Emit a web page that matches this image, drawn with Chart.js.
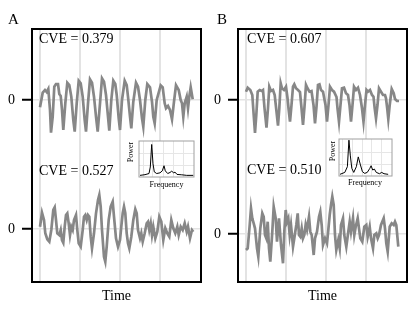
<!DOCTYPE html>
<html lang="en">
<head>
<meta charset="UTF-8">
<title>CVE panels</title>
<script src="https://cdn.jsdelivr.net/npm/chart.js"></script>
<style>
  body { margin: 0; background: #fff; }
  #wrap { position: relative; width: 415px; height: 311px; overflow: hidden; font-family: 'Liberation Serif', 'DejaVu Serif', serif; color: #000; }
  canvas { position: absolute; }
  .lbl { position: absolute; white-space: nowrap; line-height: 1; }
  .big { font-size: 15px; }
  .mid { font-size: 14px; }
  .small { font-size: 8px; transform: translate(-50%, -50%); }
  .rot { transform: translate(-50%, -50%) rotate(-90deg); }
</style>
</head>
<body>
<div id="wrap">
  <canvas id="panelA" width="206" height="311" style="left:0;top:0"></canvas>
  <canvas id="panelB" width="209" height="311" style="left:206px;top:0"></canvas>
  <canvas id="insetA" width="59" height="40" style="left:137px;top:139px"></canvas>
  <canvas id="insetB" width="57" height="41" style="left:337px;top:137px"></canvas>

  <div class="lbl big" style="left:8px;top:12px">A</div>
  <div class="lbl big" style="left:217px;top:12px">B</div>
  <div class="lbl mid" style="left:39px;top:32px">CVE = 0.379</div>
  <div class="lbl mid" style="left:39px;top:164px">CVE = 0.527</div>
  <div class="lbl mid" style="left:247px;top:32px">CVE = 0.607</div>
  <div class="lbl mid" style="left:247px;top:163px">CVE = 0.510</div>
  <div class="lbl mid" style="left:116.5px;top:289px;transform:translateX(-50%)">Time</div>
  <div class="lbl mid" style="left:322.5px;top:289px;transform:translateX(-50%)">Time</div>
  <div class="lbl small" style="left:166.5px;top:184.5px">Frequency</div>
  <div class="lbl small" style="left:365px;top:182.5px">Frequency</div>
  <div class="lbl small rot" style="left:130.5px;top:152px">Power</div>
  <div class="lbl small rot" style="left:333px;top:151px">Power</div>
</div>

<script>
// time series: [time, value]
const aTop = [[0,-7.3],[2.7,7.3],[5,10],[6.7,8],[8.3,11],[10,-10],[11,-32.7],[12.7,-16.7],[14.3,13.3],[16,16],
  [18,16],[19.3,6],[20.7,4],[22,-10],[23.3,-30],[25.3,-3.3],[27.3,17.3],[29.3,15],[31.3,3.3],[33.3,-20],
  [34.7,-31.7],[36.7,-3.3],[38.7,19.3],[40.7,16.7],[42.7,3.3],[44.7,-20],[46,-31.7],[48,-3.3],[50,20.7],[52,17.3],
  [54,3.3],[56,-16.7],[57.7,-31.7],[60,-3.3],[62,21.7],[64,18.3],[66,5],[68,-16.7],[69.3,-30.7],[71.3,0],
  [73.3,19.3],[75.3,16],[76.7,5],[78.7,-18.3],[80,-30],[82,0],[84.7,19.3],[86.7,15],[88,3.3],[90,-16.7],
  [91.3,-28.3],[93.3,-1.7],[96,17.3],[98,13.3],[100,0],[102,-18.3],[103.3,-26.7],[105.3,0],[107.3,16],[110,12.7],
  [112,-1.7],[113.3,-16.7],[114.7,-23.3],[116.7,0],[120.7,14.7],[122.7,12.7],[124.7,-3.3],[126,-8.3],[128,-6],[130,-10],
  [132,-19.3],[134,-1.7],[136,14.7],[138.7,10],[140.7,0],[142,-3.3],[143.3,-16.7],[144.7,-3.3],[146.7,3.3],[148,-8.3],
  [149.3,3.3],[150.7,12.7],[152.7,0.7]];

const aBot = [[0,2.3],[2,16.3],[4,9],[5.3,-4.3],[7.3,-10.3],[9.3,-12.7],[11.3,-1],[13.3,19],[14.7,21.7],[16,9],
  [17.3,-4.3],[19.3,-6],[20.7,-1],[22,-11],[23.3,-13.7],[24.7,2.3],[26,14],[27.3,15.7],[28.7,5.7],[30,-6],
  [31.3,2.3],[32.7,-1],[34,9],[36,14],[37.3,-1],[38.7,-14.3],[40.7,-17.7],[42.7,-1],[44,12.3],[45.3,14],
  [46.7,9],[48,14],[49.3,12.3],[50.7,-7.7],[52,-19.3],[54,-4.3],[56,15.7],[58,29],[59.3,34],[60.7,22.3],
  [62,-1],[64,-27.7],[65.3,-32.7],[66.7,-17.7],[68.7,9],[70.7,22.3],[72.7,27.3],[74,12.3],[76,-9.3],[78,-17.7],
  [80,-11],[81.3,2.3],[82.7,15.7],[84,22.3],[85.3,15.7],[86.7,-4.3],[88,-14.3],[89.3,-19.3],[91.3,-7.7],[93.3,9],
  [95.3,19.7],[96.7,15.7],[98,-1],[100,-9.3],[101.3,-4.3],[102.7,-12.7],[104.7,-4.3],[106.7,5.7],[108,7.3],[109.3,-1],
  [110.7,5.7],[112,-6],[113.3,2.3],[115.3,-9.3],[117.3,-2.7],[119.3,12.3],[121.3,7.3],[123.3,-11],[125.3,0.7],[127.3,-4.3],
  [129.3,-7.7],[131.3,9],[133.3,0.7],[135.3,-4.3],[137.3,2.3],[138.7,-6],[140.7,2.3],[142.7,-1],[144.7,5.7],[146.7,-2.7],
  [148,2.3],[150,-9.3],[152,-1],[153.3,-2.7]];

const bTop = [[0,8.3],[1.7,12.3],[4.3,10],[6.3,5],[7.7,-15],[9,-33],[10.3,-15],[11.7,8.3],[13.7,10],[15.7,9],
  [17,10],[18.5,-8],[20.5,-27.7],[22,-8],[23.3,13.3],[25,9],[27,10],[28.7,5],[30.5,-11.7],[32,-25.7],
  [33.3,-8.3],[34.7,16.7],[36,11.7],[38,10],[40,13.3],[41.5,2],[42.7,-10],[44,-21.7],[45.5,-5],[47,13.3],
  [48.3,15.7],[50,11.7],[52,10],[54,8],[55.5,-8],[57,-25],[58.5,-6.7],[60,15],[61.5,11.7],[63.5,8.3],
  [65.5,9],[67.5,-5],[69,-23.3],[70.5,-6.7],[72,15],[73.5,15.7],[75,10],[77,8.3],[79.5,-5],[81,-21.7],
  [82.5,-5],[84,13.3],[86,10],[88,8.3],[90.5,3],[91.5,-8.3],[93,-21.7],[94.5,-5],[96,11.7],[98,12.3],
  [100,6.7],[102,5],[103.5,-5],[105,-21.7],[106.5,-5],[108,13.3],[110,10],[112,12.3],[114,5],[116,-8.3],
  [117.5,-21.7],[119,-5],[120.5,10],[122,8.3],[124,10],[126,5],[127.5,3.3],[128.7,-8.3],[130,-18.3],[131.5,-5],
  [133,11.7],[135,8.3],[137,5],[139,5],[140,1.7],[141.2,-8.3],[142.3,-19],[143.7,-5],[145.7,11],[147.7,6.7],
  [149,1],[151,-1],[153,-1]];

const bBot = [[0,-16],[1.7,-14.3],[3.7,9],[5,25.7],[6.3,15.7],[7.7,10.7],[9,5.7],[11,-14.3],[12.3,-22.7],[14.3,5.7],
  [16.3,20.7],[17.7,17.3],[19,-1],[20.3,-4.3],[21.7,12.3],[23,-14.3],[24.3,-27.7],[26.3,2.3],[27.7,27.3],[29.7,15.7],
  [31,-7.7],[33,15.7],[35,-11],[37,-29.3],[38.3,2.3],[39.7,24],[41,12.3],[42.3,15.7],[43.7,-1],[45,9],
  [47,-12.7],[48.3,-4.3],[50.3,9],[51.7,20.7],[53,-1],[54.3,-2.7],[55.7,5.7],[57,-4.3],[58.3,-1],[59.7,9.7],
  [61,4.3],[63,17.3],[64.3,2.3],[65.7,-1],[67.7,-21],[69,-4.3],[71,2.3],[73,17.3],[74.3,22.3],[75.7,9],
  [77,-11],[79,-4.3],[81,-9.3],[82.3,4],[83.7,19],[85,29],[86.3,37.3],[87.7,29],[89,-1],[90.3,-16],
  [92.3,-6],[93.7,-14.3],[95,9],[97,15.7],[98.3,-1],[100.3,-12.7],[102.3,2.3],[103.7,12.3],[105,2.3],[107,15.7],
  [108.3,-1],[109.7,7.3],[111.7,15.7],[113,5.7],[114.3,-4.3],[116.3,-7.7],[118.3,7.3],[120.3,9],[121.7,-2.7],[123.7,7.3],
  [125,-4.3],[127,-14.3],[128.3,-1],[130.3,0.7],[131.7,-4.3],[133,-1],[135,9],[137.7,15.7],[139,5.7],[140.3,-9.3],
  [141.7,-17.7],[143.7,7.3],[145.7,10.7],[147.7,9],[149,12.3],[150.3,9],[152.3,-12.7]];

// power spectra in the insets: [frequency, power]
const specA = [[-0.3,0.14],[0.2,0.2],[0.6,0.3],[0.73,0.86],[0.87,2.8],[1.0,1.14],[1.13,0.44],[1.37,0.3],[1.7,0.36],[1.93,0.53],
  [2.1,0.97],[2.23,0.53],[2.47,0.3],[2.7,0.39],[2.87,0.5],[3.07,0.36],[3.2,0.42],[3.4,0.22],[3.87,0.19],[4.37,0.14],[5.03,0.14]];
const specB = [[-0.3,0.14],[0.2,0.3],[0.47,0.78],[0.63,3.0],[0.77,1.75],[0.93,0.64],[1.13,0.3],[1.4,0.78],[1.6,1.6],[1.8,1.0],
  [2.03,0.36],[2.27,0.22],[2.53,0.3],[2.8,0.64],[2.93,0.86],[3.1,0.5],[3.27,0.58],[3.47,0.3],[3.8,0.19],[4.03,0.3],
  [4.27,0.19],[4.7,0.14]];

const timeGrid = [0, 40, 80, 120];
const zeroTick = [0];

const toPts = arr => arr.map(p => ({ x: p[0], y: p[1] }));

const framePlugin = {
  id: 'frame',
  beforeDraw(chart, args, opts) {
    if (!opts.fill) return;
    const a = chart.chartArea;
    chart.ctx.save();
    chart.ctx.fillStyle = '#fff';
    chart.ctx.fillRect(a.left, a.top, a.right - a.left, a.bottom - a.top);
    chart.ctx.restore();
  },
  afterDraw(chart, args, opts) {
    const a = chart.chartArea;
    const ctx = chart.ctx;
    ctx.save();
    ctx.strokeStyle = opts.color;
    ctx.lineWidth = opts.width;
    ctx.strokeRect(a.left, a.top, a.right - a.left, a.bottom - a.top);
    ctx.restore();
  }
};

function yAxis(min, max) {
  return {
    type: 'linear', position: 'left', stack: 'panel', stackWeight: 1,
    min: min, max: max,
    afterBuildTicks: s => { s.ticks = zeroTick.map(v => ({ value: v })); },
    afterFit: s => { s.width = 32; },
    border: { display: false },
    grid: { color: '#e3e3e3', lineWidth: 1.5, tickColor: '#000', tickWidth: 2, tickLength: 10 },
    ticks: { padding: 7, color: '#000', font: { family: 'Liberation Serif', size: 14 }, callback: v => String(v) }
  };
}

function makePanel(id, top, bot, rightPad, topRange, botRange) {
  new Chart(document.getElementById(id), {
    type: 'line',
    data: {
      datasets: [
        { data: toPts(bot), yAxisID: 'yBot', borderColor: '#878787', borderWidth: 2.7, pointRadius: 0, tension: 0 },
        { data: toPts(top), yAxisID: 'yTop', borderColor: '#878787', borderWidth: 2.7, pointRadius: 0, tension: 0 }
      ]
    },
    options: {
      responsive: false,
      animation: false,
      events: [],
      layout: { padding: { top: 29, bottom: 29, left: 0, right: rightPad } },
      scales: {
        x: {
          type: 'linear', min: -8, max: 161,
          afterBuildTicks: s => { s.ticks = timeGrid.map(v => ({ value: v })); },
          afterFit: s => { s.height = 0; },
          border: { display: false },
          grid: { color: '#e3e3e3', lineWidth: 2, drawTicks: false },
          ticks: { display: false }
        },
        yBot: yAxis(botRange[0], botRange[1]),
        yTop: yAxis(topRange[0], topRange[1])
      },
      plugins: {
        legend: { display: false },
        tooltip: { enabled: false },
        frame: { color: '#000', width: 2, fill: false }
      }
    },
    plugins: [framePlugin]
  });
}

function makeInset(id, spec) {
  new Chart(document.getElementById(id), {
    type: 'line',
    data: { datasets: [{ data: toPts(spec), borderColor: '#000', borderWidth: 1, pointRadius: 0, tension: 0 }] },
    options: {
      responsive: false,
      animation: false,
      events: [],
      layout: { padding: 2 },
      scales: {
        x: {
          type: 'linear', min: -0.4, max: 5.1,
          afterBuildTicks: s => { s.ticks = [0, 1, 2, 3, 4].map(v => ({ value: v })); },
          afterFit: s => { s.height = 0; },
          border: { display: false },
          grid: { color: '#e6e6e6', lineWidth: 1, drawTicks: false },
          ticks: { display: false }
        },
        y: {
          type: 'linear', min: 0, max: 3.1,
          afterBuildTicks: s => { s.ticks = [1, 2].map(v => ({ value: v })); },
          afterFit: s => { s.width = 0; },
          border: { display: false },
          grid: { color: '#e6e6e6', lineWidth: 1, drawTicks: false },
          ticks: { display: false }
        }
      },
      plugins: {
        legend: { display: false },
        tooltip: { enabled: false },
        frame: { color: '#a0a0a0', width: 1, fill: true }
      }
    },
    plugins: [framePlugin]
  });
}

makePanel('panelA', aTop, aBot, 5, [-55.5, 71], [-53, 73.5]);
makePanel('panelB', bTop, bBot, 8, [-55.5, 71], [-48, 78.5]);
makeInset('insetA', specA);
makeInset('insetB', specB);
</script>
</body>
</html>
